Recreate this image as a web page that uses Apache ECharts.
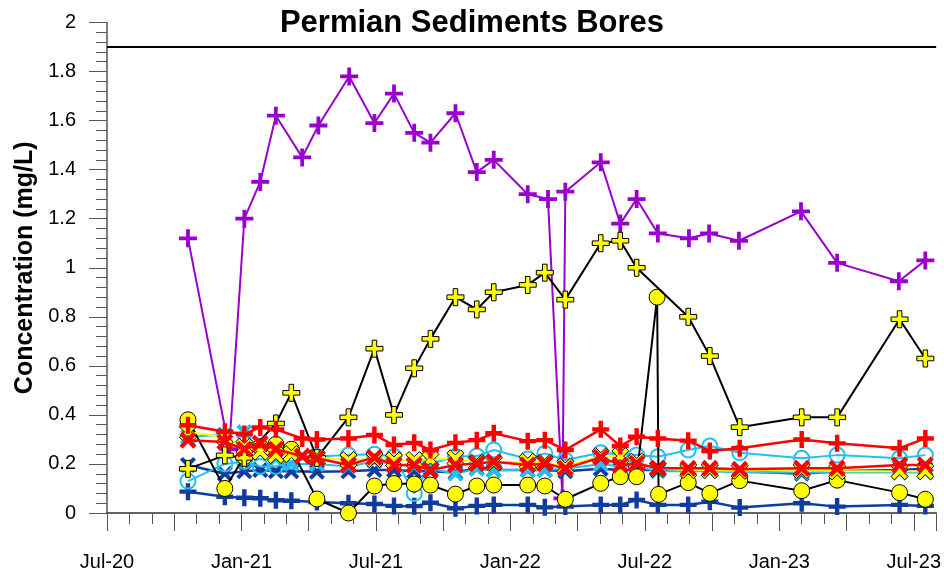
<!DOCTYPE html>
<html>
<head>
<meta charset="utf-8">
<script src="https://cdn.jsdelivr.net/npm/echarts@6/dist/echarts.min.js"></script>
<style>html,body{margin:0;padding:0;background:#fff}#c{width:944px;height:577px}</style>
</head>
<body>
<div id="c"></div>
<script>
// ---------- DATA ----------
const xTickLabels = ['Jul-20','Jan-21','Jul-21','Jan-22','Jul-22','Jan-23','Jul-23'];
const yTickLabels = ['0','0.2','0.4','0.6','0.8','1','1.2','1.4','1.6','1.8','2'];
const guideLevel = 1.9;

const purpleDates = ['2020-10-20','2020-12-15','2021-01-05','2021-01-27','2021-02-16','2021-03-23','2021-04-14','2021-05-26','2021-06-29','2021-07-26','2021-08-23','2021-09-14','2021-10-18','2021-11-16','2021-12-09','2022-01-25','2022-02-20','2022-03-11','2022-03-15','2022-05-02','2022-05-29','2022-06-20','2022-07-19','2022-08-31','2022-09-27','2022-11-07','2023-01-31','2023-03-19','2023-06-11','2023-07-17'];
const purpleValues = [1.12,0.26,1.20,1.35,1.62,1.45,1.58,1.78,1.59,1.71,1.55,1.51,1.63,1.39,1.44,1.30,1.28,0.06,1.31,1.43,1.18,1.28,1.14,1.12,1.14,1.11,1.23,1.02,0.945,1.03];

const commonDates = ['2020-10-20','2020-12-09','2021-01-05','2021-01-27','2021-02-16','2021-03-08','2021-03-23','2021-04-12','2021-05-25','2021-06-29','2021-07-26','2021-08-23','2021-09-14','2021-10-18','2021-11-16','2021-12-09','2022-01-25','2022-02-16','2022-03-15','2022-05-02','2022-05-29','2022-06-20','2022-07-19','2022-08-30','2022-09-28','2022-11-08','2023-02-01','2023-03-19','2023-06-12','2023-07-17'];

const yellowPlusValues = [0.18,0.235,0.225,null,0.365,0.49,null,0.225,0.39,0.67,0.40,0.59,0.71,0.88,0.83,0.90,0.93,0.98,0.87,1.10,1.11,1.00,null,0.80,0.64,0.35,0.39,0.39,0.79,0.63];

const yellowCircleDates = ['2020-10-20','2020-12-09','2021-01-05','2021-01-27','2021-02-16','2021-03-08','2021-04-12','2021-05-25','2021-06-29','2021-07-26','2021-08-23','2021-09-14','2021-10-18','2021-11-16','2021-12-09','2022-01-25','2022-02-16','2022-03-15','2022-05-02','2022-05-29','2022-06-20','2022-07-18','2022-07-20','2022-08-30','2022-09-28','2022-11-08','2023-02-01','2023-03-19','2023-06-12','2023-07-17'];
const yellowCircleValues = [0.38,0.10,0.23,0.27,0.28,0.26,0.057,0.0,0.11,0.12,0.118,0.114,0.077,0.11,0.114,0.114,0.11,0.056,0.121,0.148,0.148,0.88,0.076,0.124,0.08,0.132,0.091,0.134,0.083,0.056];

const redPlusValues = [0.358,0.331,0.322,0.349,0.341,null,0.304,0.30,0.304,0.318,0.277,0.286,0.257,0.286,0.297,0.325,0.293,0.297,0.257,0.341,0.273,0.311,0.304,0.295,0.253,0.264,0.30,0.284,0.264,0.304];
const redXValues = [0.297,0.29,0.26,0.284,0.26,null,0.232,0.223,0.196,0.227,0.196,0.196,0.175,0.196,0.202,0.209,0.196,0.202,0.182,0.227,0.196,0.202,0.182,0.182,0.182,0.178,0.182,0.182,0.196,0.196];
const yellowXValues = [0.33,0.31,0.27,0.25,0.236,0.24,null,0.225,0.216,0.22,0.215,0.216,0.218,0.223,0.205,0.205,0.209,0.205,0.19,0.232,0.232,0.209,0.18,0.175,0.175,0.172,0.175,0.17,0.17,0.17];
const cyanCircleValues = [0.13,0.20,0.21,0.19,0.19,0.21,null,0.23,0.236,0.24,0.23,0.08,0.20,0.23,0.232,0.257,0.22,0.243,0.216,0.246,0.24,0.236,0.229,0.257,0.273,0.246,0.223,0.236,0.223,0.236];
const cyanXValues = [0.31,0.32,0.33,0.25,0.22,0.20,null,0.20,0.19,0.21,0.20,0.19,0.18,0.16,0.18,0.175,0.175,0.175,0.18,0.20,0.19,0.19,0.17,0.17,0.17,0.165,0.165,0.165,0.165,0.165];
const navyXValues = [0.196,0.16,0.17,0.175,0.17,0.17,null,0.168,0.17,0.175,0.175,0.17,0.17,0.165,0.182,0.175,0.175,0.175,0.17,0.18,0.175,0.175,0.175,0.175,0.175,0.17,0.16,0.17,0.175,0.18];
const navyPlusValues = [0.087,0.066,0.062,0.06,0.052,0.05,null,0.045,0.04,0.037,0.029,0.028,0.042,0.019,0.029,0.033,0.033,0.023,0.026,0.033,0.033,0.053,0.033,0.033,0.046,0.022,0.04,0.026,0.033,0.029];

// ---------- HELPERS ----------
function toMonth(s){
  const p = s.split('-').map(Number);
  const dim = new Date(Date.UTC(p[0], p[1], 0)).getUTCDate();
  return (p[0]-2020)*12 + (p[1]-7) + (p[2]-1)/dim;
}
function pairs(dates, vals){
  const out = [];
  for (let i=0;i<dates.length;i++){ if (vals[i]!==null && vals[i]!==undefined) out.push([toMonth(dates[i]), vals[i]]); }
  return out;
}
function plusPath(t){ const a=(10-t)/2, b=(10+t)/2;
  return `path://M${a},0H${b}V${a}H10V${b}H${b}V10H${a}V${b}H0V${a}H${a}Z`; }
function xPath(t){ const h=t/Math.SQRT2;
  return `path://M0,${h}L${h},0L5,${5-h}L${10-h},0L10,${h}L${5+h},5L10,${10-h}L${10-h},10L5,${5+h}L${h},10L0,${10-h}L${5-h},5Z`; }

const PURPLE='#9900CC', RED='#FF0000', NAVY='#103C9E', CYAN='#22BFF0', YEL='#FFFF00';
const FONT = '"Liberation Sans", Arial, sans-serif';

function line(name, data, opt){
  return Object.assign({
    name, type:'line', data, showSymbol:true, connectNulls:true, animation:false,
    xAxisIndex:0, yAxisIndex:0, z:2
  }, opt);
}

const series = [
  line('purple', pairs(purpleDates, purpleValues), {
    symbol: plusPath(2.1), symbolSize:18,
    itemStyle:{color:PURPLE}, lineStyle:{color:PURPLE, width:2},
    markLine:{silent:true, symbol:'none', animation:false, label:{show:false},
      lineStyle:{color:'#000', width:2, type:'solid'}, data:[{yAxis:guideLevel}]}
  }),
  line('navyPlus', pairs(commonDates, navyPlusValues), {
    symbol: plusPath(2.6), symbolSize:17,
    itemStyle:{color:NAVY}, lineStyle:{color:NAVY, width:2.5}
  }),
  line('navyX', pairs(commonDates, navyXValues), {
    symbol: xPath(2.5), symbolSize:16,
    itemStyle:{color:NAVY}, lineStyle:{color:NAVY, width:2.5}
  }),
  line('cyanX', pairs(commonDates, cyanXValues), {
    symbol: xPath(2.5), symbolSize:16,
    itemStyle:{color:CYAN}, lineStyle:{color:CYAN, width:2}
  }),
  line('cyanCircle', pairs(commonDates, cyanCircleValues), {
    symbol:'circle', symbolSize:15,
    itemStyle:{color:'rgba(0,0,0,0)', borderColor:CYAN, borderWidth:2}, lineStyle:{color:CYAN, width:2}
  }),
  line('yellowCircle', pairs(yellowCircleDates, yellowCircleValues), {
    symbol:'circle', symbolSize:16,
    itemStyle:{color:YEL, borderColor:'#000', borderWidth:1}, lineStyle:{color:'#000', width:2}
  }),
  line('yellowPlus', pairs(commonDates, yellowPlusValues), {
    symbol: plusPath(2.7), symbolSize:17,
    itemStyle:{color:YEL, borderColor:'#000', borderWidth:1}, lineStyle:{color:'#000', width:2}
  }),
  line('yellowX', pairs(commonDates, yellowXValues), {
    symbol: xPath(2.8), symbolSize:17,
    itemStyle:{color:YEL, borderColor:'#000', borderWidth:1}, lineStyle:{color:YEL, width:2}
  }),
  line('redX', pairs(commonDates, redXValues), {
    symbol: xPath(2.6), symbolSize:17,
    itemStyle:{color:RED}, lineStyle:{color:RED, width:2.5}
  }),
  line('redPlus', pairs(commonDates, redPlusValues), {
    symbol: plusPath(2.6), symbolSize:17,
    itemStyle:{color:RED}, lineStyle:{color:RED, width:2.5}
  })
];
series.forEach((s,i)=>{ s.z = 2 + i*0.01; s.zlevel = 0; });

const chart = echarts.init(document.getElementById('c'), null, {renderer:'canvas'});
chart.setOption({
  animation:false,
  backgroundColor:'#fff',
  title:{ text:'Permian Sediments Bores', left:'center', top:3,
    textStyle:{fontFamily:FONT, fontSize:31, fontWeight:'bold', color:'#000'} },
  grid:{ left:107, right:5, top:22.5, bottom:64, containLabel:false },
  xAxis:[
    { type:'value', min:0, max:37, interval:1, position:'bottom',
      axisLine:{show:true, lineStyle:{color:'#333', width:1.5}},
      axisTick:{show:true, inside:false, length:11, lineStyle:{color:'#555', width:1}},
      axisLabel:{show:false}, splitLine:{show:false} },
    { type:'value', min:0, max:37, interval:3, position:'bottom',
      axisLine:{show:false},
      axisTick:{show:true, inside:false, length:18, lineStyle:{color:'#555', width:1}},
      axisLabel:{show:true, margin:39, fontFamily:FONT, fontSize:20, color:'#000',
        formatter:(v)=> (Math.round(v)%6===0 ? xTickLabels[Math.round(v)/6] : '')},
      splitLine:{show:false} }
  ],
  yAxis:[{ type:'value', min:0, max:2, interval:0.2,
    name:'Concentration (mg/L)', nameLocation:'middle', nameRotate:90, nameGap:68,
    nameTextStyle:{fontFamily:FONT, fontSize:25, fontWeight:'bold', color:'#000'},
    axisLine:{show:true, lineStyle:{color:'#555', width:1.5}},
    axisTick:{show:true, inside:false, length:18, lineStyle:{color:'#555', width:1}},
    minorTick:{show:true, splitNumber:5, length:11, lineStyle:{color:'#555', width:1}},
    axisLabel:{margin:31, fontFamily:FONT, fontSize:20, color:'#000',
      formatter:(v)=> yTickLabels[Math.round(v/0.2)]},
    splitLine:{show:false} }],
  series
});
</script>
</body>
</html>
